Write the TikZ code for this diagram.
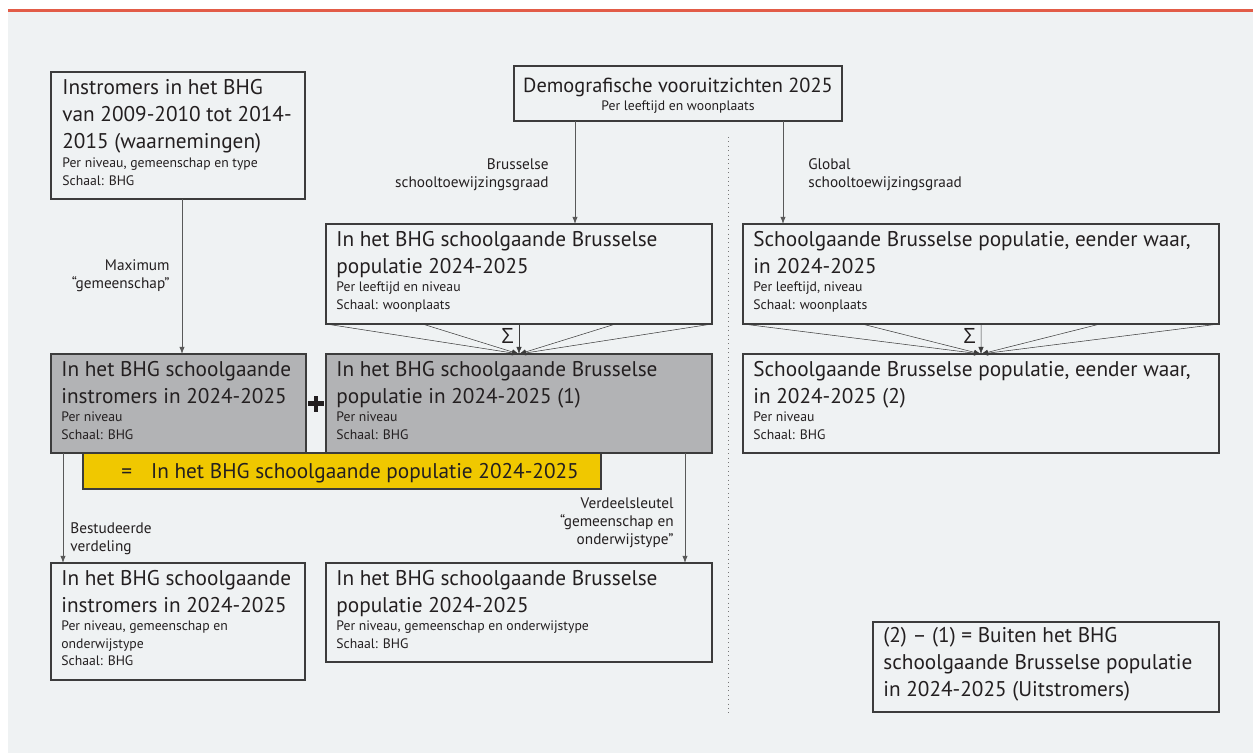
\documentclass[tikz,border=0pt]{standalone}
\usepackage{fontspec}
\setmainfont{PT Sans}
\newfontfamily\sigmafont{Open Sans}
\usepackage{tikz}
\usetikzlibrary{arrows.meta,positioning,calc}
\definecolor{bgcol}{RGB}{239,242,243}
\definecolor{topred}{RGB}{226,92,72}
\definecolor{boxgray}{RGB}{178,179,181}
\definecolor{sumyellow}{RGB}{240,200,0}
\definecolor{ink}{RGB}{35,31,32}
\definecolor{edge}{RGB}{60,60,60}
\newlength\px \setlength\px{0.02cm}
\newcommand\ttlfont{\fontsize{12.1pt}{15.2pt}\selectfont}
\newcommand\inffont{\fontsize{7.8pt}{9.95pt}\selectfont}
\newcommand\lblfont{\fontsize{8.7pt}{10.2pt}\selectfont}
\tikzstyle{infobox} = [draw=edge, line width=0.6pt, anchor=north west, inner sep=0pt, outer sep=0pt]
\tikzstyle{graybox} = [infobox, fill=boxgray]
\tikzstyle{ttl} = [anchor=north west, align=left, inner sep=0pt, font=\ttlfont, text=ink, execute at begin node=\strut]
\tikzstyle{inf} = [ttl, font=\inffont]
\tikzstyle{lbl} = [inner sep=0pt, font=\lblfont, text=ink, execute at begin node=\strut]
\tikzstyle{sig} = [inner sep=0pt, anchor=base east, font=\sigmafont\fontsize{12pt}{14pt}\selectfont, text=ink]
\tikzstyle{flow} = [draw=edge!85, line width=0.5pt, -{Latex[length=4pt,width=3pt]}]
\tikzstyle{fanline} = [draw=edge, line width=0.3pt, -{Latex[length=4pt,width=3pt]}]

\begin{document}
\begin{tikzpicture}[x=0.02cm, y=-0.02cm]
    \useasboundingbox (0,0) rectangle (1253,753);
    % Background and top rule
    \fill[bgcol] (8,12) rectangle (1253,753);
    \fill[topred] (8,9) rectangle (1253,12);

    % Sources
    \node[infobox, minimum width=254\px, minimum height=127\px] (instr) at (51,72) {};
    \node[ttl] (instr-t) at ([shift={(11,7.3)}]instr.north west) {Instromers in het BHG\\van 2009-2010 tot 2014-\\2015 (waarnemingen)};
    \node[inf] (instr-i) at ([shift={(11,85.8)}]instr.north west) {Per niveau, gemeenschap en type\\Schaal: BHG};

    \node[infobox, minimum width=328\px, minimum height=55\px] (demo) at (514,66) {};
    \node[ttl, anchor=north, align=center, font=\fontsize{11.6pt}{15.2pt}\selectfont] (demo-t) at ([shift={(0,7.3)}]demo.north) {Demografische vooruitzichten 2025};
    \node[inf, anchor=north, align=center] (demo-i) at ([shift={(0,31.8)}]demo.north) {Per leeftijd en woonplaats};

    % Populations by place of residence
    \node[infobox, minimum width=386\px, minimum height=100\px] (bpop) at (326,224) {};
    \node[ttl] (bpop-t) at ([shift={(10,7.3)}]bpop.north west) {In het BHG schoolgaande Brusselse\\populatie 2024-2025};
    \node[inf] (bpop-i) at ([shift={(10,57.8)}]bpop.north west) {Per leeftijd en niveau\\Schaal: woonplaats};

    \node[infobox, minimum width=476\px, minimum height=100\px] (rpop) at (743,224) {};
    \node[ttl] (rpop-t) at ([shift={(10,7.3)}]rpop.north west) {Schoolgaande Brusselse populatie, eender waar,\\in 2024-2025};
    \node[inf] (rpop-i) at ([shift={(10,57.8)}]rpop.north west) {Per leeftijd, niveau\\Schaal: woonplaats};

    % Populations at BHG scale
    \node[graybox, minimum width=255\px, minimum height=99\px] (ginstr) at (51,354) {};
    \node[ttl] (ginstr-t) at ([shift={(10,7.3)}]ginstr.north west) {In het BHG schoolgaande\\instromers in 2024-2025};
    \node[inf] (ginstr-i) at ([shift={(10,57.8)}]ginstr.north west) {Per niveau\\Schaal: BHG};

    \node[graybox, minimum width=386\px, minimum height=99\px] (gpop) at (326,354) {};
    \node[ttl] (gpop-t) at ([shift={(10,7.3)}]gpop.north west) {In het BHG schoolgaande Brusselse\\populatie in 2024-2025 (1)};
    \node[inf] (gpop-i) at ([shift={(10,57.8)}]gpop.north west) {Per niveau\\Schaal: BHG};

    \node[infobox, minimum width=476\px, minimum height=99\px] (rtot) at (743,354) {};
    \node[ttl] (rtot-t) at ([shift={(10,7.3)}]rtot.north west) {Schoolgaande Brusselse populatie, eender waar,\\in 2024-2025 (2)};
    \node[inf] (rtot-i) at ([shift={(10,57.8)}]rtot.north west) {Per niveau\\Schaal: BHG};

    % Sum
    \coordinate (plus) at ($(ginstr.east)!0.5!(gpop.west)$);
    \draw[ink, line width=4.5\px] ([xshift=-8\px]plus) -- ([xshift=8\px]plus) ([yshift=-8\px]plus) -- ([yshift=8\px]plus);
    \node[infobox, fill=sumyellow, minimum width=518\px, minimum height=36\px] (total) at (83,453) {};
    \node[ttl] (total-t) at ([shift={(38,6.3)}]total.north west) {=\hspace{19\px}In het BHG schoolgaande populatie 2024-2025};

    % Results
    \node[infobox, minimum width=254\px, minimum height=117\px] (rinstr) at (51,563) {};
    \node[ttl] (rinstr-t) at ([shift={(10,7.3)}]rinstr.north west) {In het BHG schoolgaande\\instromers in 2024-2025};
    \node[inf] (rinstr-i) at ([shift={(10,57.8)}]rinstr.north west) {Per niveau, gemeenschap en\\onderwijstype\\Schaal: BHG};

    \node[infobox, minimum width=386\px, minimum height=99\px] (rbpop) at (326,563) {};
    \node[ttl] (rbpop-t) at ([shift={(10,7.3)}]rbpop.north west) {In het BHG schoolgaande Brusselse\\populatie 2024-2025};
    \node[inf] (rbpop-i) at ([shift={(10,57.8)}]rbpop.north west) {Per niveau, gemeenschap en onderwijstype\\Schaal: BHG};

    \node[infobox, minimum width=346\px, minimum height=90\px] (outfl) at (873,622) {};
    \node[ttl] (outfl-t) at ([shift={(10,5.3)}]outfl.north west) {(2) -- (1) = Buiten het BHG\\schoolgaande Brusselse populatie\\in 2024-2025 (Uitstromers)};

    % Divider
    \draw[dotted, edge!70, line width=0.5pt] (728,137) -- (728,713);

    % Arrows
    \draw[flow] ([xshift=4\px]instr.south) -- ([xshift=4\px]instr.south |- ginstr.north);
    \node[lbl, anchor=north east, align=right] (max-l) at (170,259.5) {Maximum\\“gemeenschap”};

    \draw[flow] ([xshift=-103\px]demo.south) -- ([xshift=-103\px]demo.south |- bpop.north);
    \node[lbl, anchor=north east, align=right] (bru-l) at (549,158.5) {Brusselse\\schooltoewijzingsgraad};
    \draw[flow] ([xshift=105\px]demo.south) -- ([xshift=105\px]demo.south |- rpop.north);
    \node[lbl, anchor=north west, align=left] (glo-l) at (808,158.5) {Global\\schooltoewijzingsgraad};

    \foreach \f in {0,0.25,0.5,0.75,1} {
        \draw[fanline] ($(bpop.south west)!\f!(bpop.south east)$) -- (gpop.north);
        \draw[fanline] ($(rpop.south west)!\f!(rpop.south east)$) -- (rtot.north);
    }
    \node[sig] (sum-b) at ([shift={(-5,19)}]bpop.south) {Σ};
    \node[sig] (sum-r) at ([shift={(-5,19)}]rpop.south) {Σ};

    \draw[flow] ([xshift=12\px]ginstr.south west) -- ([xshift=12\px]rinstr.north west);
    \node[lbl, anchor=north west, align=left] (bes-l) at (70,522.5) {Bestudeerde\\verdeling};
    \draw[flow] ([xshift=-27\px]gpop.south east) -- ([xshift=-27\px]rbpop.north east);
    \node[lbl, anchor=north east, align=right] (ver-l) at (674,497.5) {Verdeelsleutel\\“gemeenschap en\\onderwijstype”};
\end{tikzpicture}
\end{document}
